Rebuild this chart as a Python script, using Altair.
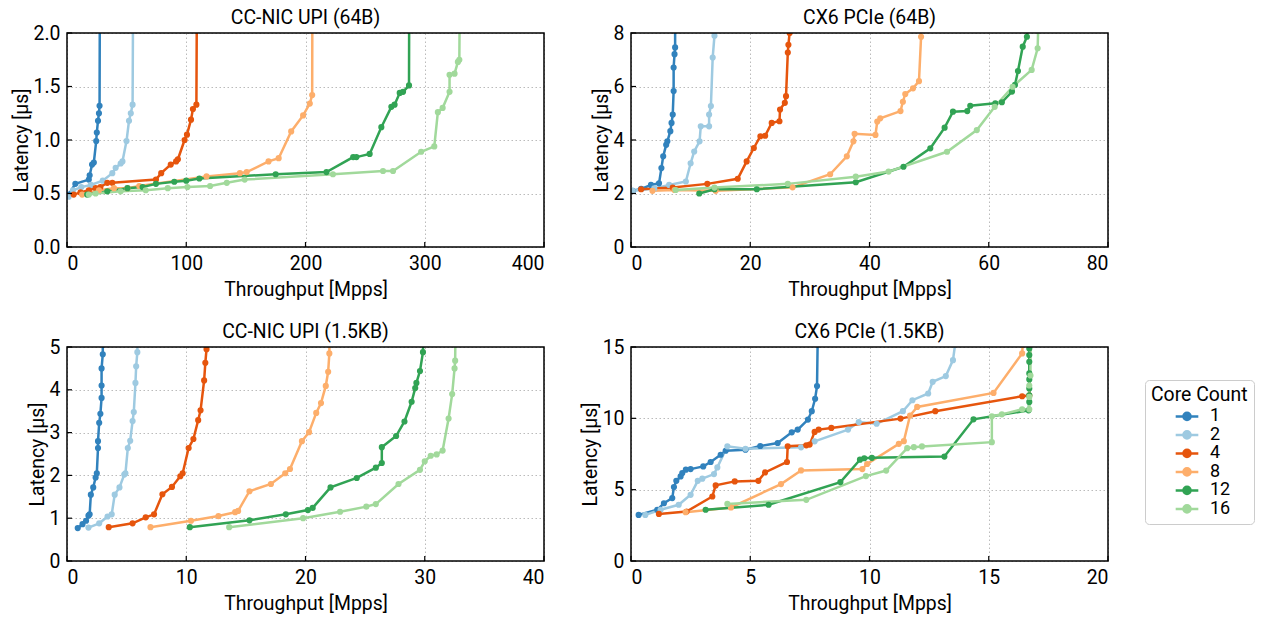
import altair as alt
import pandas as pd

CORES = ["1", "2", "4", "8", "12", "16"]
COLORS = ["#3182bd", "#9ecae1", "#e6550d", "#fdae6b", "#31a354", "#a1d99b"]

# ---- CC-NIC UPI (64B) ----
UPI64_1 = [(1.4,0.49),(7,0.59),(18.3,0.63),(19,0.67),(21,0.77),(22.5,0.79),(24.5,0.99),(25,1.07),(26,1.18),(26.8,1.25),(27.3,1.32),(27.6,2.5)]
UPI64_2 = [(1.4,0.47),(5,0.53),(12,0.56),(20,0.58),(30,0.62),(38,0.69),(40.8,0.74),(45,0.78),(46.5,0.8),(49.9,0.99),(52,1.18),(53.5,1.25),(55,1.33),(55.5,2.5)]
UPI64_4 = [(5.6,0.49),(11.3,0.51),(18.3,0.53),(24,0.55),(28,0.56),(33.8,0.6),(38,0.6),(74.6,0.63),(79,0.69),(87,0.77),(91.5,0.8),(93,0.82),(98.6,1.0),(100.6,1.05),(104,1.19),(105.6,1.29),(108.5,1.33),(109,2.5)]
UPI64_8 = [(12.7,0.49),(26.8,0.53),(39.4,0.55),(50.7,0.55),(60.6,0.57),(117,0.66),(145,0.69),(150.7,0.7),(169,0.8),(177.5,0.83),(188,1.08),(198,1.23),(203.6,1.34),(205.6,1.42),(205.8,2.5)]
UPI64_12 = [(16.9,0.49),(33.8,0.52),(50.7,0.55),(63.4,0.56),(74.6,0.59),(90,0.61),(100,0.62),(111,0.64),(175,0.68),(217.6,0.70),(240,0.84),(242.7,0.84),(253.8,0.87),(263.6,1.12),(272,1.31),(274.7,1.33),(279,1.44),(281.8,1.45),(286.8,1.51),(287,2.5)]
UPI64_16 = [(18.3,0.49),(24,0.5),(45,0.52),(66,0.53),(84.5,0.55),(101,0.56),(120,0.57),(134,0.6),(149,0.63),(223,0.68),(265,0.71),(273.4,0.71),(297,0.89),(308,0.94),(311,1.26),(315,1.30),(320.8,1.45),(320.8,1.61),(325,1.62),(327.8,1.73),(329,1.75),(329.5,2.5)]

# ---- CX6 PCIe (64B) ----
PCIE64_1 = [(0.3,2.1),(1.7,2.17),(3.35,2.32),(4.7,2.38),(5.1,2.95),(5.4,3.39),(5.9,3.82),(6.1,3.95),(6.6,4.33),(6.8,4.64),(7.0,4.95),(7.15,5.83),(7.15,6.71),(7.3,7.21),(7.4,7.46),(7.4,9)]
PCIE64_2 = [(0.3,2.1),(3.9,2.19),(6.4,2.32),(9.2,2.45),(10,3.13),(10.6,3.57),(11.5,3.95),(11.7,4.51),(13.1,4.51),(13.1,4.95),(13.4,5.27),(13.7,7.08),(14,7.9),(14.2,9)]
PCIE64_4 = [(1.7,2.16),(7,2.22),(12.8,2.36),(17.9,2.55),(19.4,3.2),(20.6,3.7),(21.7,4.14),(22.5,4.16),(23.6,4.64),(24.9,4.7),(25.0,5.14),(25.8,5.39),(26,5.64),(26.3,7.27),(26.4,7.56),(26.6,8),(26.7,9)]
PCIE64_8 = [(3.6,2.1),(7.3,2.13),(14.2,2.1),(27.1,2.23),(33.4,2.72),(36.2,3.39),(37.3,3.95),(37.5,4.23),(41,4.19),(41.3,4.69),(41.8,4.81),(45.2,5.08),(45.6,5.43),(46.0,5.72),(47.3,5.93),(48.3,6.2),(48.65,7.86),(48.7,9)]
PCIE64_12 = [(11.45,2.0),(14,2.16),(21.1,2.16),(37.7,2.42),(45.7,3.0),(50.2,3.69),(52.6,4.46),(54,5.06),(56.4,5.08),(56.9,5.28),(61.1,5.37),(62.2,5.41),(63.9,5.81),(64.4,6.06),(64.9,6.58),(65.7,7.49),(66.4,7.86),(66.6,9)]
PCIE64_16 = [(7.5,2.13),(14,2.22),(26.3,2.36),(37.7,2.63),(43.2,2.82),(53,3.56),(58,4.37),(61,5.24),(64.0,5.99),(67.2,6.62),(68.2,7.43),(68.4,9)]

# ---- CC-NIC UPI (1.5KB) ----
UPI15_1 = [(0.9,0.77),(1.3,0.86),(1.6,0.94),(1.8,1.06),(1.9,1.09),(2.0,1.55),(2.2,1.72),(2.4,1.95),(2.5,2.05),(2.6,2.64),(2.6,2.8),(2.7,3.23),(2.8,3.44),(2.9,3.81),(2.9,4.1),(2.9,4.5),(3.0,4.83),(3.0,6)]
UPI15_2 = [(1.8,0.78),(2.7,0.88),(3.4,1.04),(3.75,1.09),(4.0,1.55),(4.4,1.72),(4.8,2.02),(4.9,2.05),(5.1,2.64),(5.3,2.81),(5.5,3.27),(5.6,3.48),(5.74,4.16),(5.8,4.55),(5.9,4.88),(5.95,6)]
UPI15_4 = [(3.5,0.79),(5.5,0.88),(6.6,1.02),(7.3,1.09),(8.0,1.56),(8.8,1.73),(9.5,1.98),(9.7,2.05),(10.2,2.64),(10.6,2.85),(11.0,3.29),(11.2,3.52),(11.5,4.22),(11.6,4.63),(11.7,4.95),(11.75,6)]
UPI15_8 = [(7.0,0.79),(10.4,0.94),(12.7,1.05),(14.1,1.14),(14.35,1.17),(15.3,1.63),(17.1,1.8),(18.3,2.05),(18.7,2.15),(19.7,2.8),(20.3,3.01),(20.9,3.46),(21.3,3.69),(21.7,4.09),(21.9,4.42),(22.0,4.85),(22.05,6)]
UPI15_12 = [(10.3,0.79),(15.3,0.95),(18.35,1.09),(20.2,1.19),(20.6,1.24),(22.1,1.72),(24.3,1.94),(25.9,2.18),(26.4,2.29),(26.4,2.66),(27.6,2.92),(28.3,3.26),(28.9,3.72),(29.2,4.04),(29.3,4.16),(29.6,4.44),(29.85,4.88),(29.9,6)]
UPI15_16 = [(13.6,0.79),(19.8,1.0),(22.9,1.15),(25.1,1.27),(25.9,1.33),(27.8,1.80),(29.6,2.13),(30.0,2.33),(30.5,2.46),(31.0,2.49),(31.5,2.58),(32.0,3.33),(32.3,3.9),(32.5,4.5),(32.55,4.68),(32.6,6)]

# ---- CX6 PCIe (1.5KB) ----
PCIE15_1 = [(0.32,3.23),(1.1,3.59),(1.38,4.05),(1.73,4.41),(1.8,5.18),(1.9,5.62),(2.08,5.93),(2.15,6.16),(2.3,6.4),(2.5,6.44),(3.03,6.63),(3.34,6.94),(3.76,7.45),(3.97,7.73),(4.8,7.8),(5.42,8.06),(6.15,8.27),(6.74,9.02),(6.99,9.21),(7.42,9.91),(7.58,10.5),(7.72,11.37),(7.8,12.26),(7.84,17)]
PCIE15_2 = [(0.6,3.23),(1.24,3.59),(2.0,3.94),(2.5,4.64),(2.8,5.62),(2.99,5.77),(3.48,6.09),(3.62,6.56),(4.04,8.04),(4.8,7.87),(7.13,7.97),(7.7,8.39),(9.1,9.21),(9.55,9.74),(10.3,9.62),(11.4,10.5),(11.8,11.27),(12.46,11.74),(12.65,12.56),(13.2,12.96),(13.5,14.08),(13.6,15.3),(13.65,17)]
PCIE15_4 = [(1.17,3.3),(2.33,3.47),(3.41,4.52),(3.55,5.3),(4.35,5.58),(5.34,5.62),(5.62,6.21),(6.54,6.94),(6.57,8.04),(7.35,8.11),(7.49,8.16),(7.7,9.05),(7.87,9.21),(8.4,9.33),(11.3,9.98),(12.76,10.5),(16.4,11.55),(16.7,11.6),(16.75,17)]
PCIE15_8 = [(2.29,3.42),(4.19,3.75),(6.29,5.39),(7.13,6.35),(9.7,6.44),(9.9,6.8),(11.23,8.21),(11.44,8.4),(11.7,10.2),(12.0,10.8),(15.2,11.78),(16.4,14.55),(16.5,17)]
PCIE15_12 = [(3.13,3.59),(5.77,3.94),(8.78,5.53),(9.6,7.1),(9.78,7.2),(10.1,7.23),(13.14,7.32),(14.36,9.93),(16.67,10.56),(16.7,11.15),(16.7,11.62),(16.7,12.09),(16.7,12.73),(16.7,13.15),(16.7,13.96),(16.7,14.44),(16.7,14.9),(16.7,17)]
PCIE15_16 = [(4.04,4.0),(7.35,4.29),(9.85,5.95),(10.7,6.34),(11.58,7.91),(11.86,7.98),(12.2,8.03),(15.13,8.33),(15.13,10.14),(15.55,10.28),(16.4,10.63),(16.7,10.63),(16.7,11.5),(16.7,12.3),(16.75,13.0),(16.75,15.2),(16.75,17)]

PANELS = [
    ("CC-NIC UPI (64B)", [UPI64_1, UPI64_2, UPI64_4, UPI64_8, UPI64_12, UPI64_16], 400, [0, 100, 200, 300, 400], 2.0, [0, 0.5, 1.0, 1.5, 2.0], ".1f"),
    ("CX6 PCIe (64B)", [PCIE64_1, PCIE64_2, PCIE64_4, PCIE64_8, PCIE64_12, PCIE64_16], 80, [0, 20, 40, 60, 80], 8, [0, 2, 4, 6, 8], "d"),
    ("CC-NIC UPI (1.5KB)", [UPI15_1, UPI15_2, UPI15_4, UPI15_8, UPI15_12, UPI15_16], 40, [0, 10, 20, 30, 40], 5, [0, 1, 2, 3, 4, 5], "d"),
    ("CX6 PCIe (1.5KB)", [PCIE15_1, PCIE15_2, PCIE15_4, PCIE15_8, PCIE15_12, PCIE15_16], 20, [0, 5, 10, 15, 20], 15, [0, 5, 10, 15], "d"),
]

W, H = 477, 214
FONT = "Roboto"
FS = 19.4
LEGEND_SYMBOL = "M-1.6,0H1.6M0.5,0A0.5,0.5,0,1,1,-0.5,0A0.5,0.5,0,1,1,0.5,0Z"


def panel(title, series, xmax, xticks, ymax, yticks, yfmt):
    rows = []
    for c, pts in zip(CORES, series):
        for i, (x, y) in enumerate(pts):
            rows.append({"core": c, "x": x, "y": y, "i": i})
    df = pd.DataFrame(rows)

    x = alt.X("x:Q", scale=alt.Scale(domain=[0, xmax], nice=False, zero=False),
              axis=alt.Axis(values=xticks, title="Throughput [Mpps]", format="d"))
    y = alt.Y("y:Q", scale=alt.Scale(domain=[0, ymax], nice=False, zero=False),
              axis=alt.Axis(values=yticks, title="Latency [µs]", format=yfmt))
    color = alt.Color("core:N", sort=CORES,
                      scale=alt.Scale(domain=CORES, range=COLORS),
                      legend=alt.Legend(title="Core Count", orient="none",
                                        legendX=1078, legendY=347,
                                        symbolType=LEGEND_SYMBOL, symbolSize=200,
                                        symbolStrokeWidth=2.5, symbolOffset=27,
                                        labelOffset=14))

    lines = alt.Chart(df).mark_line(strokeWidth=2.5, clip=True).encode(
        x=x, y=y, color=color, order="i:Q", detail="core:N")
    dots = alt.Chart(df).mark_circle(size=38, opacity=1, clip=True).encode(
        x=x, y=y, color=color)

    xt = pd.DataFrame({"v": xticks})
    yt = pd.DataFrame({"v": yticks})
    xtick = alt.Chart(xt).mark_rule(color="black", strokeWidth=1.2).encode(
        x=alt.X("v:Q"), y=alt.value(H), y2=alt.value(H - 5))
    ytick = alt.Chart(yt).mark_rule(color="black", strokeWidth=1.2).encode(
        y=alt.Y("v:Q"), x=alt.value(0), x2=alt.value(5))
    frame = alt.Chart(pd.DataFrame({"f": [0]})).mark_rect(
        filled=False, stroke="black", strokeWidth=1.5).encode(
        x=alt.value(0), x2=alt.value(W), y=alt.value(0), y2=alt.value(H))

    return alt.layer(lines, dots, xtick, ytick, frame).properties(
        width=W, height=H,
        title=alt.TitleParams(title, fontSize=FS, fontWeight="normal", font=FONT,
                              color="black", offset=-5))


charts = [panel(*p) for p in PANELS]

chart = alt.concat(*charts, columns=2, spacing=alt.RowColnumber(row=100, column=87),
                   bounds="flush").resolve_scale(
    x="independent", y="independent", color="shared"
).properties(padding={"left": 11, "top": 7, "right": 5, "bottom": 5}).configure_view(
    stroke=None
).configure_axis(
    labelFont=FONT, titleFont=FONT, labelFontSize=FS, titleFontSize=FS,
    titleFontWeight="normal", labelColor="black", titleColor="black",
    domain=False, ticks=False, grid=True, gridColor="#bbbbbb", gridDash=[1.5, 2.5],
    gridWidth=1
).configure_axisX(
    labelPadding=7, titlePadding=8
).configure_axisY(
    labelPadding=7, titlePadding=2
).configure_legend(
    titleFont=FONT, labelFont=FONT, titleFontSize=FS, labelFontSize=18,
    titleFontWeight="normal", titleColor="black", labelColor="black",
    fillColor="white", strokeColor="#cccccc", cornerRadius=4, padding=6,
    rowPadding=0.5, titlePadding=2
)

chart.save("out.html", embed_options={"renderer": "svg", "actions": False})
